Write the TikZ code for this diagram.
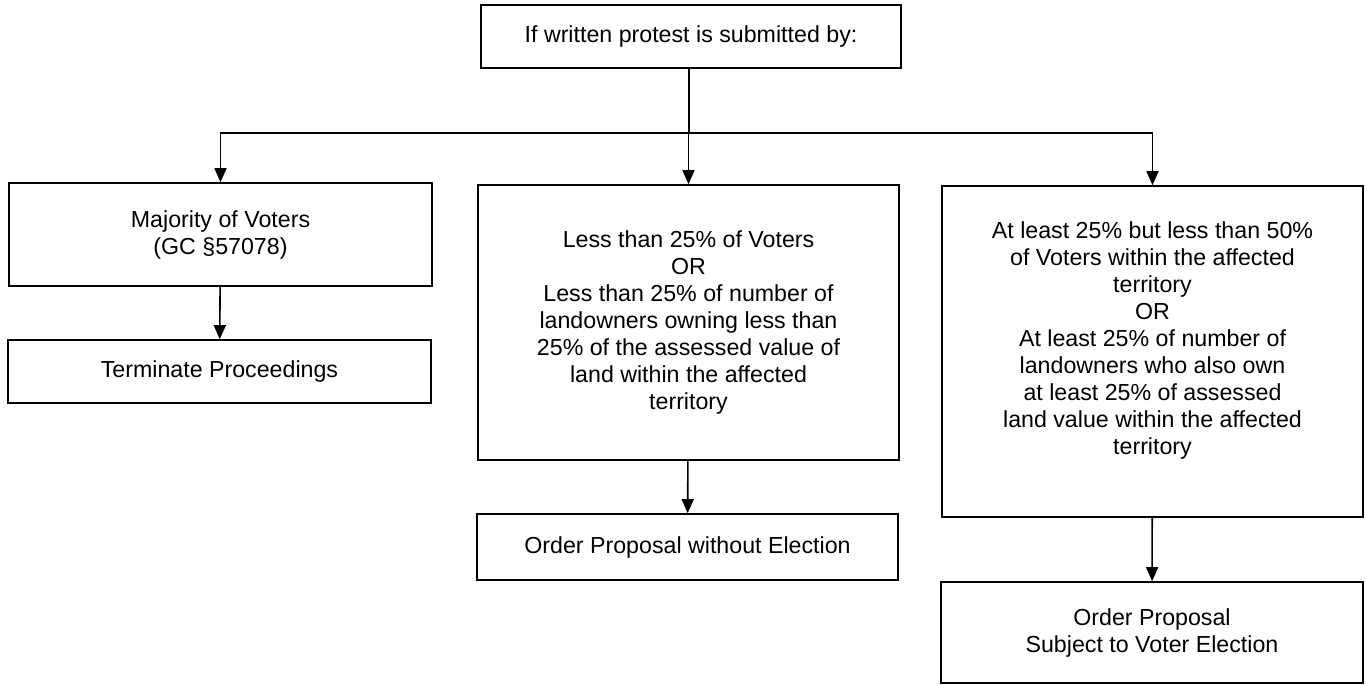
\documentclass[tikz,border=0pt]{standalone}
\usepackage{fontspec}
\setmainfont{Liberation Sans}
\usetikzlibrary{arrows.meta, positioning}

\tikzset{
	box/.style={draw, line width=0.8pt, align=center, inner sep=2pt,
		font=\fontsize{11.6}{13.5}\selectfont},
	flow/.style={-{Triangle[width=6pt,length=7pt]}, line width=0.8pt}
}

\begin{document}
\begin{tikzpicture}[x=0.5pt, y=-0.5pt]
			\useasboundingbox (0,0) rectangle (1366,685);
			\node (sub)[box, minimum width=210pt, minimum height=31.5pt] at (691,36.5) {If written protest is submitted by:};
			\node (maj)[box, minimum width=211.5pt, minimum height=51.5pt] at (220.5,234.5) {Majority of Voters\\(GC §57078)};
			\node (term)[box, minimum width=211.5pt, minimum height=31.5pt] at (219.5,371.5) {Terminate Proceedings};
			\node (less)[box, minimum width=210.5pt, minimum height=137.5pt] at (688.5,322.5) {Less than 25\% of Voters\\OR\\Less than 25\% of number of\\landowners owning less than\\25\% of the assessed value of\\land within the affected\\territory};
			\node (noelec)[box, minimum width=210.5pt, minimum height=33pt] at (687.5,547) {Order Proposal without Election};
			\node (least)[box, minimum width=210.5pt, minimum height=165.5pt] at (1152.5,351.5) {At least 25\% but less than 50\%\\of Voters within the affected\\territory\\OR\\At least 25\% of number of\\landowners who also own\\at least 25\% of assessed\\land value within the affected\\territory\\ };
			\node (voterelec)[box, minimum width=211pt, minimum height=50.5pt] at (1152,632.5) {Order Proposal\\Subject to Voter Election};
			\coordinate (bus) at (689,133);
			\draw[line width=0.8pt] (sub.south -| bus) -- (bus);
			\draw[flow] (bus) -| (maj.north);
			\draw[flow] (bus) -| (less.north);
			\draw[flow] (bus) -| (least.north);
			\draw[flow] (maj) -- (term);
			\draw[flow] (less) -- (noelec);
			\draw[flow] (least) -- (voterelec);
		\end{tikzpicture}
\end{document}
